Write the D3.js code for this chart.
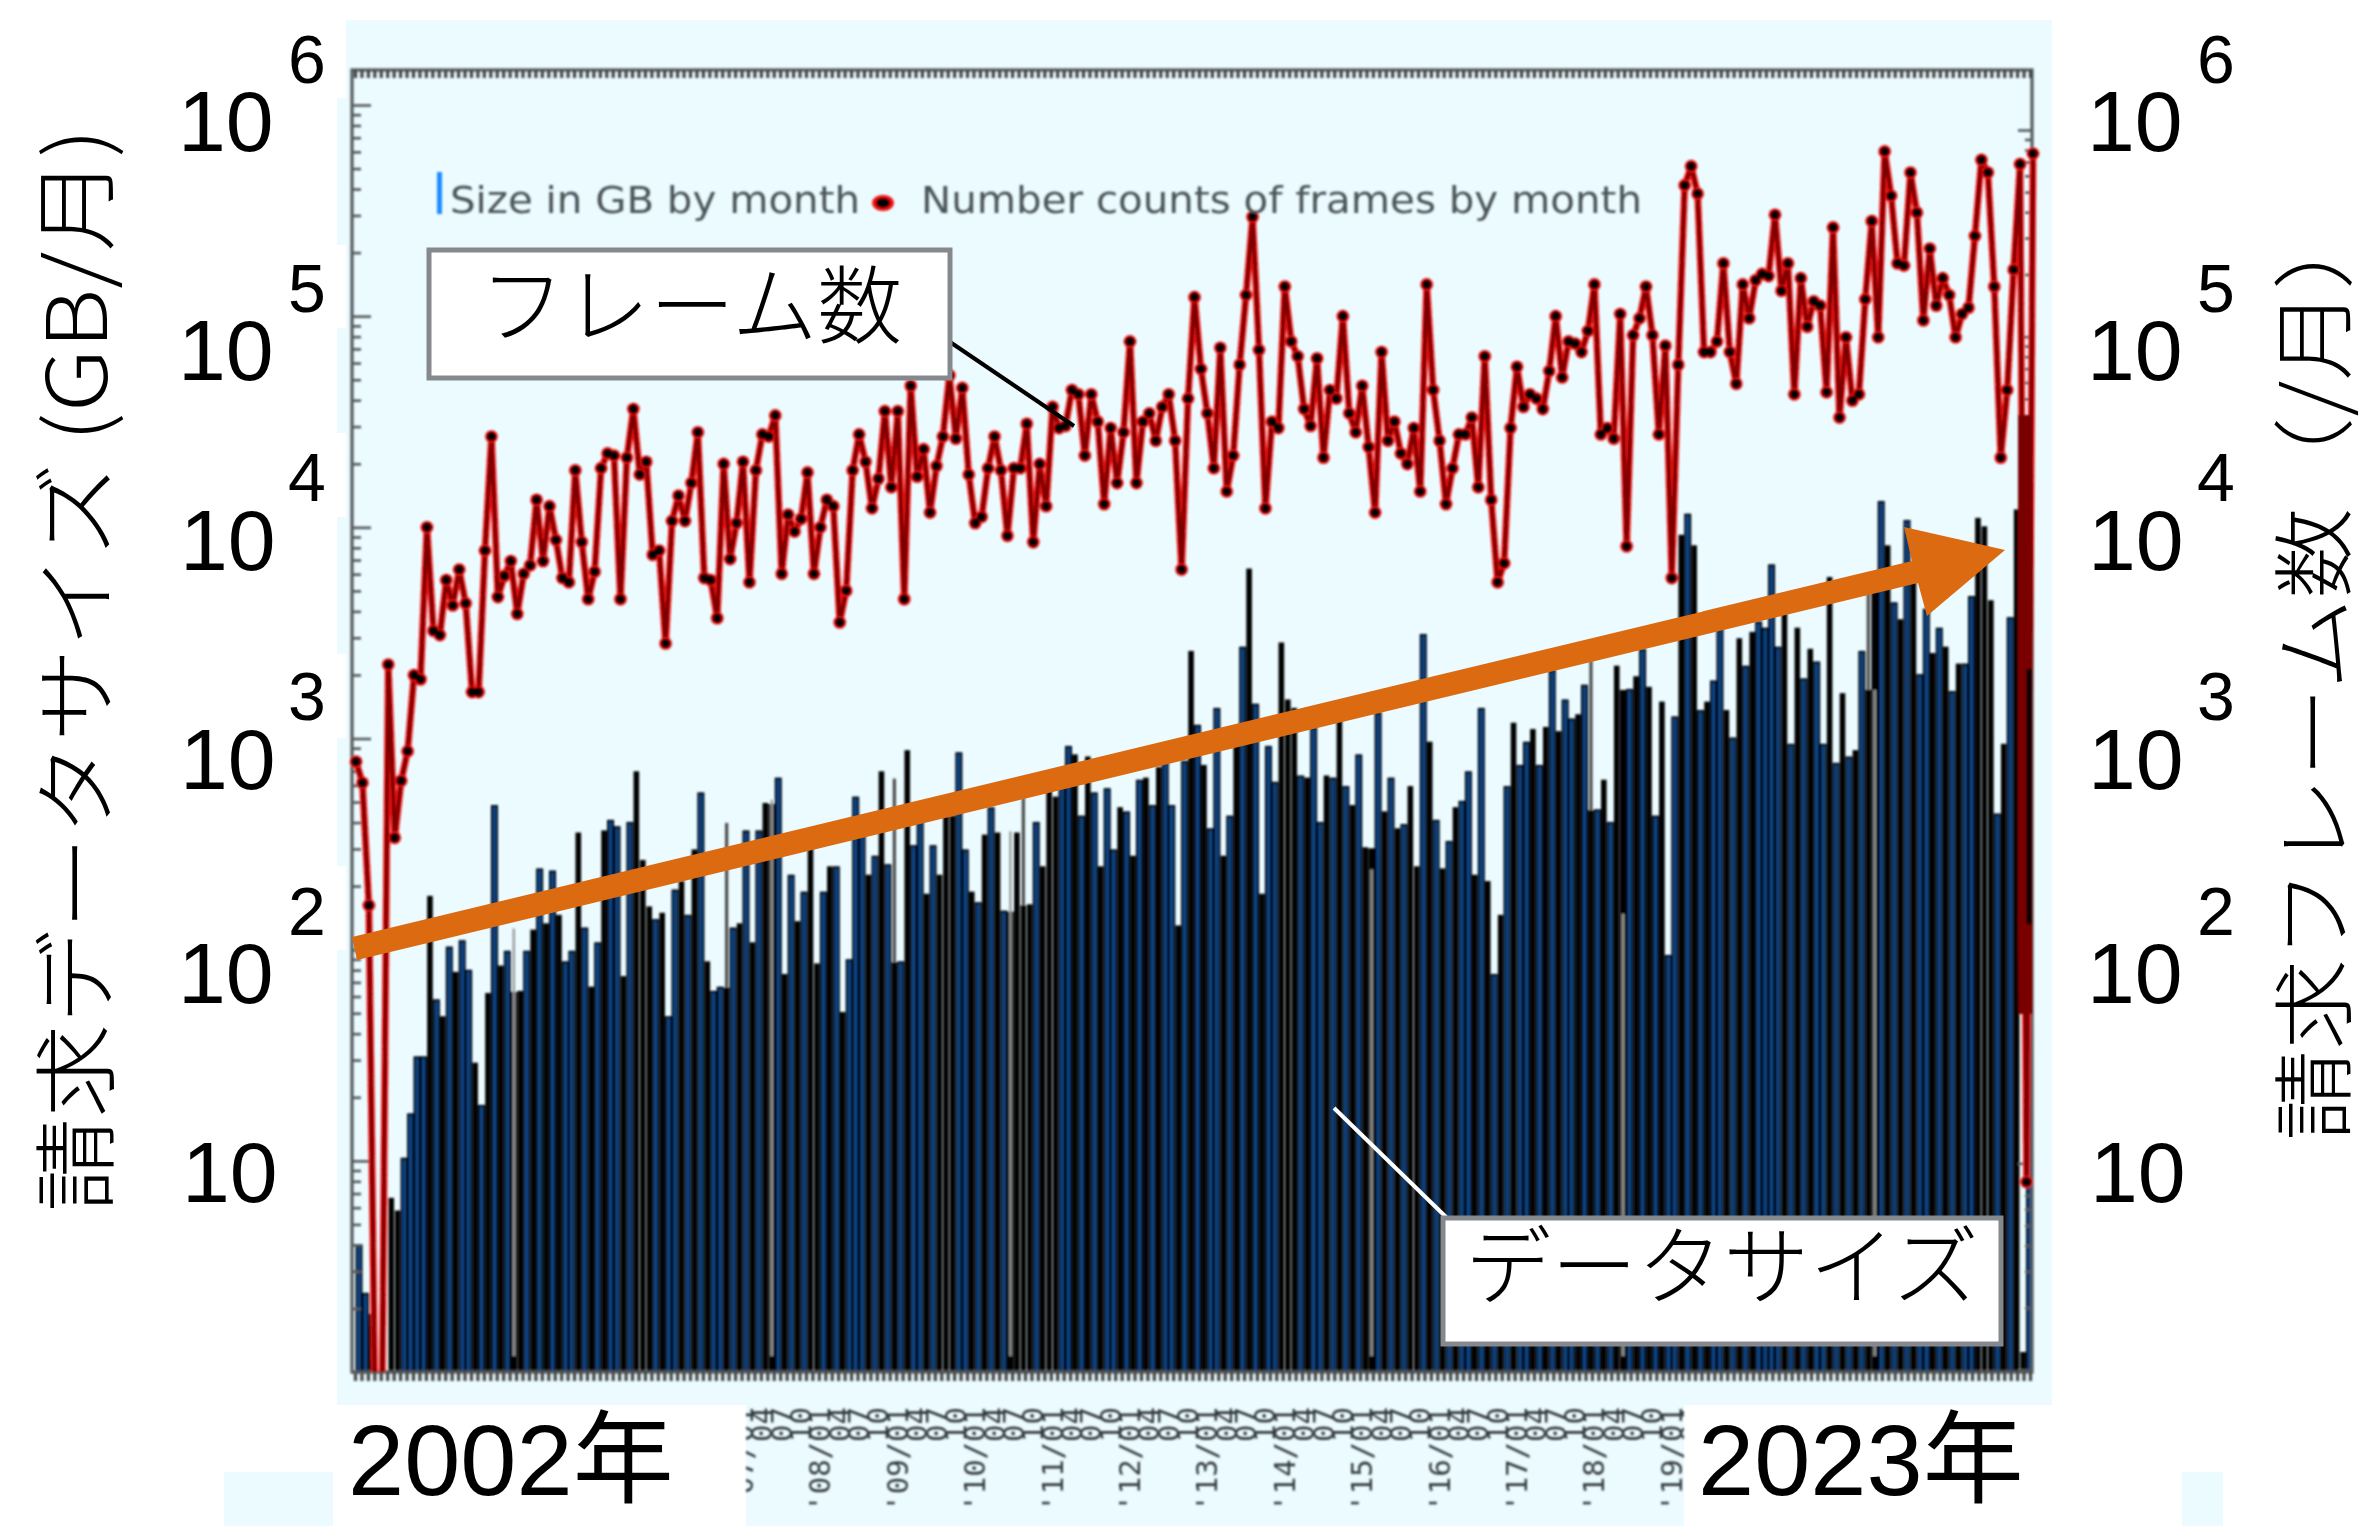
<!DOCTYPE html>
<html lang="ja">
<head>
<meta charset="utf-8">
<script src="https://cdn.jsdelivr.net/npm/d3@7"></script>
<style>
html,body{margin:0;padding:0;background:#fff}
svg{display:block}
.jp{font-family:"Noto Sans CJK JP","Noto Sans",sans-serif}
.num{font-family:"Liberation Sans","Noto Sans CJK JP",sans-serif}
</style>
</head>
<body>
<svg id="c" width="2370" height="1526" xmlns="http://www.w3.org/2000/svg"></svg>
<script>
// log10 of monthly frame counts, Jan 2002 .. Sep 2023
const frameLog10 = [
2.89,2.79,2.21,-0.3,-0.3,3.35,2.53,2.80,2.94,3.30,
3.28,4.00,3.51,3.49,3.75,3.63,3.80,3.64,3.22,3.22,
3.89,4.43,3.67,3.77,3.84,3.59,3.78,3.82,4.13,3.84,
4.10,3.94,3.76,3.74,4.27,3.93,3.66,3.79,4.28,4.35,
4.34,3.66,4.33,4.56,4.25,4.31,3.87,3.89,3.45,4.03,
4.15,4.03,4.21,4.45,3.76,3.75,3.57,4.30,3.85,4.02,
4.31,3.74,4.27,4.44,4.43,4.53,3.78,4.06,3.98,4.04,
4.26,3.78,4.00,4.13,4.10,3.55,3.70,4.27,4.44,4.31,
4.09,4.23,4.55,4.19,4.55,3.66,4.67,4.24,4.37,4.07,
4.29,4.43,4.72,4.42,4.66,4.25,4.02,4.05,4.28,4.43,
4.27,3.96,4.28,4.28,4.49,3.93,4.30,4.10,4.57,4.47,
4.48,4.65,4.63,4.34,4.63,4.50,4.11,4.47,4.21,4.45,
4.88,4.21,4.50,4.54,4.41,4.57,4.63,4.41,3.80,4.61,
5.09,4.75,4.54,4.28,4.85,4.17,4.34,4.77,5.10,5.47,
4.84,4.09,4.50,4.47,5.14,4.88,4.81,4.56,4.48,4.80,
4.33,4.65,4.61,5.00,4.54,4.45,4.67,4.38,4.07,4.83,
4.41,4.50,4.35,4.30,4.47,4.17,5.15,4.65,4.41,4.11,
4.28,4.44,4.44,4.52,4.19,4.81,4.13,3.74,3.83,4.47,
4.76,4.57,4.63,4.61,4.56,4.74,5.00,4.71,4.88,4.87,
4.83,4.93,5.15,4.44,4.47,4.42,5.01,3.91,4.91,4.99,
5.14,4.91,4.44,4.86,3.76,4.77,5.62,5.71,5.58,4.83,
4.83,4.88,5.25,4.83,4.68,5.15,4.99,5.17,5.20,5.19,
5.48,5.12,5.25,4.63,5.18,4.95,5.07,5.05,4.64,5.42,
4.52,4.90,4.60,4.63,5.08,5.45,4.90,5.78,5.57,5.25,
5.24,5.68,5.49,4.98,5.32,5.05,5.18,5.10,4.90,5.01,
5.04,5.38,5.74,5.68,5.14,4.33,4.65,5.22,5.72,0.90,
5.77];
// log10 of monthly data size in GB (0 = no bar)
const sizeLog10 = [
0.60,0.37,0.27,0,0,0.82,0.76,1.01,1.22,1.49,
1.49,2.25,1.76,1.68,2.01,1.89,2.04,1.90,1.46,1.26,
1.79,2.68,1.92,1.99,2.10,1.80,1.99,2.09,2.38,2.12,
2.37,2.16,1.94,1.99,2.55,2.10,1.82,2.03,2.56,2.61,
2.58,1.87,2.60,2.84,2.42,2.20,2.14,2.17,1.68,2.28,
2.32,2.16,2.47,2.74,1.94,1.80,1.82,2.60,2.10,2.12,
2.56,2.03,2.56,2.69,2.71,2.81,1.88,2.35,2.13,2.27,
2.52,1.93,2.27,2.39,2.39,1.70,1.95,2.72,2.55,2.35,
2.44,2.84,2.40,2.81,1.94,2.94,2.49,2.62,2.26,2.49,
2.35,2.63,2.63,2.93,2.47,2.27,2.22,2.54,2.67,2.55,
2.18,2.56,2.55,2.72,2.21,2.60,2.39,2.75,2.72,2.77,
2.96,2.92,2.63,2.91,2.74,2.39,2.76,2.47,2.67,2.65,
2.44,2.80,2.81,2.68,2.86,2.89,2.68,2.11,2.89,3.41,
3.06,2.87,2.57,3.14,2.44,2.63,2.98,3.43,3.80,3.16,
2.26,2.96,2.79,3.45,3.18,3.14,2.82,2.81,3.05,2.60,
2.82,2.81,3.09,2.77,2.68,2.92,2.48,2.38,3.12,2.65,
2.81,2.57,2.59,2.77,2.39,3.49,2.98,2.61,2.38,2.51,
2.67,2.70,2.84,2.35,3.14,2.32,1.88,2.16,2.77,3.07,
2.87,2.98,3.04,2.87,3.05,3.32,3.03,3.18,3.09,3.11,
3.25,3.37,2.66,2.80,2.60,3.34,2.17,3.23,3.29,3.42,
3.24,2.63,3.17,1.97,3.10,3.96,4.06,3.91,3.13,3.17,
3.27,3.52,3.13,3.00,3.47,3.34,3.50,3.55,3.52,3.82,
3.43,3.59,2.97,3.52,3.28,3.42,3.36,2.97,3.76,2.88,
3.21,2.91,2.94,3.41,3.70,3.23,4.12,3.91,3.64,3.56,
4.03,3.74,3.30,3.61,3.40,3.52,3.43,3.22,3.35,3.35,
3.67,4.04,4.00,3.65,2.64,2.97,3.57,4.08,0.09,1.70,
3.33];
// bar kind per month: b blue, k black, g black with long grey gap line, t black with grey tip
const barKinds = ("bbk--kkbbb"+"bkbkbkbbkb"+"kbkbgkbkbk"+"bkbbkbkbkb"+"bkbkkkbkbb"+"kbkbkbbtbk"+
"bkbkgbkbkb"+"kkbkbkbbbk"+"bkbtbkbbkb"+"kkkbbkbkbk"+"bgktkbkkkb"+"bkbkbkbbkb"+"kbkbkbbkbk"+
"bkbbkbkbkb"+"kbbkkkbkbb"+"kbkbkbkgbk"+"bkbkkbkbkb"+"kbbkbkbkbk"+"bbkbkbkbbk"+"btbkbkgbkb"+
"kbkbbkbkbk"+"bbkbkbkbbb"+"bkbkbkbbkb"+"kbkbtgbkbk"+"bkbbkbkbkb"+"bkkkbkbkkb"+"k").split("");
const labelYears = ["07","08","09","10","11","12","13","14","15","16","17","18","19"];
const labelMonths = ["01","04","07","10"];
const axisExponents = ["","2","3","4","5","6"];
const legendBar = "Size in GB by month";
const legendLine = "Number counts of frames by month";

const svg = d3.select("#c");
const defs = svg.append("defs");
defs.append("filter").attr("id","soft")
  .attr("filterUnits","userSpaceOnUse").attr("x",0).attr("y",0).attr("width",2370).attr("height",1526)
  .append("feGaussianBlur").attr("stdDeviation",0.85);
defs.append("clipPath").attr("id","plotClip").append("rect").attr("x",340).attr("y",60).attr("width",1710).attr("height",1312);
defs.append("clipPath").attr("id","barClip").append("rect").attr("x",352).attr("y",60).attr("width",1681).attr("height",1312);
defs.append("clipPath").attr("id","bandClip").append("rect").attr("x",2018).attr("y",415).attr("width",15).attr("height",599);
defs.append("clipPath").attr("id","labelClip").append("rect").attr("x",746).attr("y",1400).attr("width",938).attr("height",126);

const N = frameLog10.length;
const x = d3.scaleLinear().domain([0,N-1]).range([356,2033]);
const barOffset = 3;
const y = d3.scaleLog().domain([1,1e6]).range([1372,105]);
const yRight = d3.scaleLog().domain([1,1e6]).range([1370,130]);
const tint = "#ebfbff";

// backdrop panels
const panels = [[346,20,1706,1385],[337,98,10,147],[337,328,10,105],[337,517,10,137],[337,738,10,128],[337,950,10,455],
  [746,1405,938,121],[224,1472,109,54],[2182,1472,41,54]];
svg.append("g").selectAll("rect").data(panels).join("rect")
  .attr("x",d=>d[0]).attr("y",d=>d[1]).attr("width",d=>d[2]).attr("height",d=>d[3]).attr("fill",tint);

const chart = svg.append("g").attr("filter","url(#soft)");

// bars
const bars = chart.append("g").attr("clip-path","url(#barClip)");
const bx = i => x(i)+barOffset;
const y0 = y(1);
sizeLog10.forEach((v,i)=>{
  const k = barKinds[i];
  if (k==="-" || k==="b") return;
  const top = y(10**v);
  if (k==="k") {
    bars.append("rect").attr("x",bx(i)-2.8).attr("y",top-1).attr("width",5.6).attr("height",y0-top+1).attr("fill","#000");
  }
  if (k==="t") {
    const nb = Math.max(y(10**sizeLog10[i-1]),y(10**sizeLog10[i+1]));
    bars.append("rect").attr("x",bx(i)-1.6).attr("y",top).attr("width",3.2).attr("height",nb-top).attr("fill","#4c4c4c");
    bars.append("rect").attr("x",bx(i)-2.8).attr("y",nb).attr("width",5.6).attr("height",y0-nb).attr("fill","#000");
  }
});
sizeLog10.forEach((v,i)=>{
  if (barKinds[i]!=="b") return;
  const top = y(10**v);
  bars.append("rect").attr("x",bx(i)-3.5).attr("y",top-1).attr("width",7).attr("height",y0-top+1).attr("fill","#000");
  bars.append("rect").attr("x",bx(i)-1.7).attr("y",top+1).attr("width",3.4).attr("height",y0-top-1).attr("fill","#0a4484");
});
sizeLog10.forEach((v,i)=>{
  if (barKinds[i]!=="g") return;
  const top = y(10**v);
  const nb = Math.max(y(10**sizeLog10[i-1]),y(10**sizeLog10[i+1]));
  bars.append("rect").attr("x",bx(i)-3.4).attr("y",nb).attr("width",6.8).attr("height",y0-nb).attr("fill","#000");
  bars.append("rect").attr("x",bx(i)-1.2).attr("y",top).attr("width",2.4).attr("height",y0-16-top).attr("fill","#9a9a9a");
});

// frame and axes
const frameCol = "#555a5c";
chart.append("rect").attr("x",352).attr("y",70).attr("width",1680).attr("height",1302)
  .attr("fill","none").attr("stroke",frameCol).attr("stroke-width",3.2);
const months = d3.range(0,N);
const style = g => { g.select(".domain").remove(); g.selectAll("line").attr("stroke",frameCol).attr("stroke-width",2.6); g.selectAll("text").remove(); };
const styleX = g => { g.select(".domain").remove(); g.selectAll("line").attr("stroke","#444").attr("stroke-width",3.2); g.selectAll("text").remove(); };
const xTop = d3.scaleLinear().domain([0,N-1]).range([355,2030]);
chart.append("g").attr("transform","translate(0,70)").call(d3.axisBottom(xTop).tickValues(months).tickSize(8).tickFormat("")).call(styleX);
chart.append("g").attr("transform","translate(0,1372)").call(d3.axisBottom(xTop).tickValues(months).tickSize(9).tickFormat("")).call(styleX);
const minors=[], majors=[];
for (let e=0;e<6;e++){ majors.push(10**e); for (let m=2;m<10;m++) minors.push(m*10**e); }
majors.push(1e6);
chart.append("g").attr("transform","translate(352,0)").call(d3.axisRight(y).tickValues(minors).tickSize(9).tickFormat("")).call(style);
chart.append("g").attr("transform","translate(352,0)").call(d3.axisRight(y).tickValues(majors).tickSize(19).tickFormat("")).call(style);
chart.append("g").attr("transform","translate(2032,0)").call(d3.axisLeft(yRight).tickValues(minors).tickSize(7).tickFormat("")).call(style);
chart.append("g").attr("transform","translate(2032,0)").call(d3.axisLeft(yRight).tickValues(majors).tickSize(14).tickFormat("")).call(style);

// frame count line
const lineG = chart.append("g");
const lineGen = d3.line().x((d,i)=>x(i)).y(d=>y(10**d));
const clipped = lineG.append("g").attr("clip-path","url(#plotClip)");
clipped.append("path").attr("d",lineGen(frameLog10)).attr("fill","none").attr("stroke","#f21212").attr("stroke-width",6.8).attr("stroke-linejoin","round");
clipped.append("path").attr("d",lineGen(frameLog10)).attr("fill","none").attr("stroke","#7a0000").attr("stroke-width",3.8).attr("stroke-linejoin","round");
// the last months' swing merges into one heavy band in the reference
const tailLine = d3.line().x(d=>x(d)).y(d=>y(10**frameLog10[d]));
lineG.append("path").attr("clip-path","url(#bandClip)").attr("d",tailLine([258,259,260]))
  .attr("fill","none").attr("stroke","#7a0000").attr("stroke-width",14);
const tipTop = y(10**sizeLog10[260]), tipBottom = y(10**2.12);
lineG.append("rect").attr("x",x(260)-6.5).attr("y",tipTop).attr("width",5.5).attr("height",tipBottom-tipTop).attr("fill","#000");
const pts = frameLog10.map((d,i)=>[i,d]).filter(d=>d[1]>0);
lineG.append("g").selectAll("circle").data(pts).join("circle").attr("cx",d=>x(d[0])).attr("cy",d=>y(10**d[1])).attr("r",6.4).attr("fill","#f01010");
lineG.append("g").selectAll("circle").data(pts).join("circle").attr("cx",d=>x(d[0])).attr("cy",d=>y(10**d[1])).attr("r",4.8).attr("fill","#000");

// original legend
chart.append("rect").attr("x",437).attr("y",172).attr("width",5).attr("height",42).attr("fill","#1a8cff");
chart.append("text").attr("x",450).attr("y",213).attr("font-family","DejaVu Sans").attr("font-size",38).attr("fill","#4c5458")
  .attr("textLength",410).attr("lengthAdjust","spacingAndGlyphs").text(legendBar);
chart.append("ellipse").attr("cx",883).attr("cy",203).attr("rx",11).attr("ry",8).attr("fill","#ee1010");
chart.append("ellipse").attr("cx",883).attr("cy",203).attr("rx",7).attr("ry",5).attr("fill","#000");
chart.append("text").attr("x",921).attr("y",213).attr("font-family","DejaVu Sans").attr("font-size",38).attr("fill","#4c5458")
  .attr("textLength",721).attr("lengthAdjust","spacingAndGlyphs").text(legendLine);

// rotated date labels
const labels = chart.append("g").attr("clip-path","url(#labelClip)").attr("font-family","DejaVu Sans Mono").attr("font-size",29).attr("fill","#33393c");
labelYears.forEach((yy,yi)=>{
  labelMonths.forEach((mm,mi)=>{
    const idx = (parseInt(yy)-2)*12 + mi*3;
    const t = labels.append("text").attr("text-anchor","end")
      .attr("transform",`translate(${x(idx)+10},1407) rotate(-90)`);
    t.text(mi===0 ? `'${yy}/${mm}` : mm);
  });
});

// orange trend arrow
svg.append("polygon")
  .attr("points","352,937 1912,561 1904,527 2005,550 1927,616 1918,583 357,960")
  .attr("fill","#dc6a10");

// callouts
svg.append("line").attr("x1",950).attr("y1",342).attr("x2",1074).attr("y2",426).attr("stroke","#000").attr("stroke-width",4);
svg.append("line").attr("x1",1334).attr("y1",1108).attr("x2",1447).attr("y2",1218).attr("stroke","#fff").attr("stroke-width",4);
svg.append("rect").attr("x",429).attr("y",250).attr("width",521).attr("height",128).attr("fill","#fff").attr("stroke","#85888c").attr("stroke-width",5);
svg.append("text").attr("class","jp").attr("x",691).attr("y",337).attr("text-anchor","middle").attr("font-size",85).attr("fill","#000").attr("font-weight",300).text("フレーム数");
svg.append("rect").attr("x",1443).attr("y",1218).attr("width",558).attr("height",126).attr("fill","#fff").attr("stroke","#85888c").attr("stroke-width",5);
svg.append("text").attr("class","jp").attr("x",1722).attr("y",1298).attr("text-anchor","middle").attr("font-size",86).attr("fill","#000").attr("font-weight",300).text("データサイズ");

// big axis labels
const labelBase = [1202,1003,789,570,380,151];
const expBase = [null,935,720,501,312,83];
const leftTen = [182,178,180,180,178,178];
const rightTen = [2090,2087,2088,2088,2087,2087];
labelBase.forEach((b,k)=>{
  [[leftTen[k],288],[rightTen[k],2197]].forEach(([tx,ex])=>{
    svg.append("text").attr("class","num").attr("x",tx).attr("y",b).attr("font-size",86).attr("fill","#000").text("10");
    if (axisExponents[k]) svg.append("text").attr("class","num").attr("x",ex).attr("y",expBase[k]).attr("font-size",68).attr("fill","#000").text(axisExponents[k]);
  });
});
svg.append("text").attr("class","jp").attr("transform","translate(107,1212) rotate(-90)").attr("font-size",84).attr("font-weight",300)
  .attr("textLength",1084).attr("lengthAdjust","spacingAndGlyphs").text("請求データサイズ (GB/月)");
svg.append("text").attr("class","jp").attr("transform","translate(2344,1141) rotate(-90)").attr("font-size",82).attr("font-weight",300)
  .attr("textLength",942).attr("lengthAdjust","spacingAndGlyphs").text("請求フレーム数（/月）");

// year captions
svg.append("text").attr("class","num").attr("x",348).attr("y",1495).attr("font-size",101).attr("fill","#000").text("2002年");
svg.append("text").attr("class","num").attr("x",1698).attr("y",1495).attr("font-size",101).attr("fill","#000").text("2023年");
</script>
</body>
</html>
